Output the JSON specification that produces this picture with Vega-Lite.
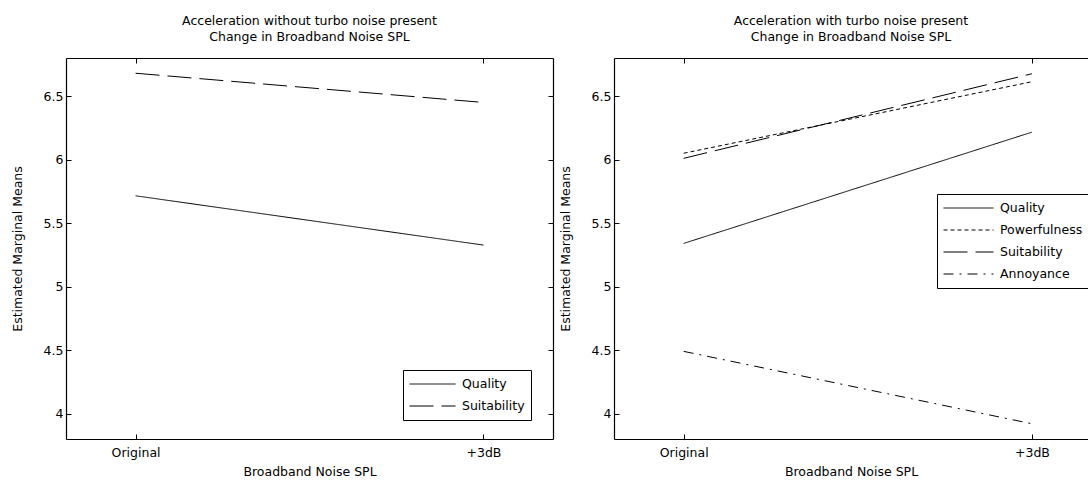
{
  "$schema": "https://vega.github.io/schema/vega-lite/v6.json",
  "background": "white",
  "padding": {"left": 11, "top": 15, "right": 0, "bottom": 0},
  "spacing": 61,
  "bounds": "flush",
  "resolve": {"scale": {"strokeDash": "independent"}, "legend": {"strokeDash": "independent"}},
  "config": {
    "font": "DejaVu Sans",
    "view": {"stroke": null},
    "axis": {
      "labelFont": "DejaVu Sans", "labelFontSize": 12.5, "labelColor": "black",
      "titleFont": "DejaVu Sans", "titleFontSize": 12.5, "titleFontWeight": "normal", "titleColor": "black",
      "domainColor": "black", "domainWidth": 1.2, "tickColor": "black", "tickWidth": 1, "tickSize": -5,
      "grid": false, "labelPadding": 8, "titlePadding": 8
    },
    "axisX": {"labelPadding": 12, "titlePadding": 7},
    "legend": {
      "labelFont": "DejaVu Sans", "labelFontSize": 12.5, "labelColor": "black",
      "symbolType": "stroke", "symbolStrokeColor": "black", "symbolStrokeWidth": 1,
      "strokeColor": "black", "fillColor": "white", "padding": 6, "rowPadding": 6, "labelOffset": 6, "clipHeight": 16
    },
    "title": {"font": "DejaVu Sans", "fontSize": 12.5, "fontWeight": "normal", "color": "black", "lineHeight": 16, "offset": 14}
  },
  "datasets": {
    "d": [
      {"panel": "without", "level": "Original", "t": 0, "measure": "Quality", "value": 5.715},
      {"panel": "without", "level": "+3dB", "t": 1, "measure": "Quality", "value": 5.327},
      {"panel": "without", "level": "Original", "t": 0, "measure": "Suitability", "value": 6.68},
      {"panel": "without", "level": "+3dB", "t": 1, "measure": "Suitability", "value": 6.45},
      {"panel": "with", "level": "Original", "t": 0, "measure": "Quality", "value": 5.34},
      {"panel": "with", "level": "+3dB", "t": 1, "measure": "Quality", "value": 6.216},
      {"panel": "with", "level": "Original", "t": 0, "measure": "Powerfulness", "value": 6.05},
      {"panel": "with", "level": "+3dB", "t": 1, "measure": "Powerfulness", "value": 6.613},
      {"panel": "with", "level": "Original", "t": 0, "measure": "Suitability", "value": 6.01},
      {"panel": "with", "level": "+3dB", "t": 1, "measure": "Suitability", "value": 6.676},
      {"panel": "with", "level": "Original", "t": 0, "measure": "Annoyance", "value": 4.49},
      {"panel": "with", "level": "+3dB", "t": 1, "measure": "Annoyance", "value": 3.92}
    ]
  },
  "hconcat": [
    {
      "title": {"text": ["Acceleration without turbo noise present", "Change in Broadband Noise SPL"]},
      "width": 487,
      "height": 381,
      "data": {"name": "d"},
      "transform": [{"filter": "datum.panel === 'without'"}],
      "layer": [
        {
          "mark": {"type": "line", "color": "black", "strokeWidth": 1},
          "encoding": {
            "x": {"field": "t", "type": "quantitative", "scale": {"domain": [-0.2, 1.2], "nice": false, "zero": false},
                  "axis": {"orient": "bottom", "values": [0, 1], "labelExpr": "datum.value === 0 ? 'Original' : '+3dB'", "title": "Broadband Noise SPL"}},
            "y": {"field": "value", "type": "quantitative", "scale": {"domain": [3.8, 6.8], "nice": false, "zero": false},
                  "axis": {"orient": "left", "values": [4, 4.5, 5, 5.5, 6, 6.5], "format": ".1~f", "title": "Estimated Marginal Means", "titlePadding": 19}},
            "strokeDash": {"field": "measure", "type": "nominal",
                  "scale": {"domain": ["Quality", "Suitability"], "range": [[1, 0], [24, 8]]},
                  "legend": {"orient": "none", "legendX": 337, "legendY": 312, "title": null, "symbolSize": 2116}}
          }
        },
        {
          "mark": {"type": "line", "opacity": 0},
          "encoding": {
            "x": {"field": "t", "type": "quantitative", "axis": {"orient": "top", "values": [0, 1], "labels": false, "title": null}},
            "y": {"field": "value", "type": "quantitative", "axis": {"orient": "right", "values": [4, 4.5, 5, 5.5, 6, 6.5], "labels": false, "title": null}},
            "detail": {"field": "measure", "type": "nominal"}
          }
        }
      ],
      "resolve": {"axis": {"x": "independent", "y": "independent"}}
    },
    {
      "title": {"text": ["Acceleration with turbo noise present", "Change in Broadband Noise SPL"]},
      "width": 474,
      "height": 381,
      "data": {"name": "d"},
      "transform": [{"filter": "datum.panel === 'with'"}],
      "layer": [
        {
          "mark": {"type": "line", "color": "black", "strokeWidth": 1},
          "encoding": {
            "x": {"field": "t", "type": "quantitative", "scale": {"domain": [-0.2, 1.161], "nice": false, "zero": false},
                  "axis": {"orient": "bottom", "values": [0, 1], "labelExpr": "datum.value === 0 ? 'Original' : '+3dB'", "title": "Broadband Noise SPL"}},
            "y": {"field": "value", "type": "quantitative", "scale": {"domain": [3.8, 6.8], "nice": false, "zero": false},
                  "axis": {"orient": "left", "values": [4, 4.5, 5, 5.5, 6, 6.5], "format": ".1~f", "title": "Estimated Marginal Means", "titlePadding": 19}},
            "strokeDash": {"field": "measure", "type": "nominal",
                  "scale": {"domain": ["Quality", "Powerfulness", "Suitability", "Annoyance"], "range": [[1, 0], [4, 3], [24, 8], [10, 6, 2, 6]]},
                  "legend": {"orient": "none", "legendX": 323, "legendY": 136, "title": null, "symbolSize": 2500}}
          }
        },
        {
          "mark": {"type": "line", "opacity": 0},
          "encoding": {
            "x": {"field": "t", "type": "quantitative", "axis": {"orient": "top", "values": [0, 1], "labels": false, "title": null}},
            "y": {"field": "value", "type": "quantitative", "axis": null},
            "detail": {"field": "measure", "type": "nominal"}
          }
        }
      ],
      "resolve": {"axis": {"x": "independent", "y": "independent"}}
    }
  ]
}
